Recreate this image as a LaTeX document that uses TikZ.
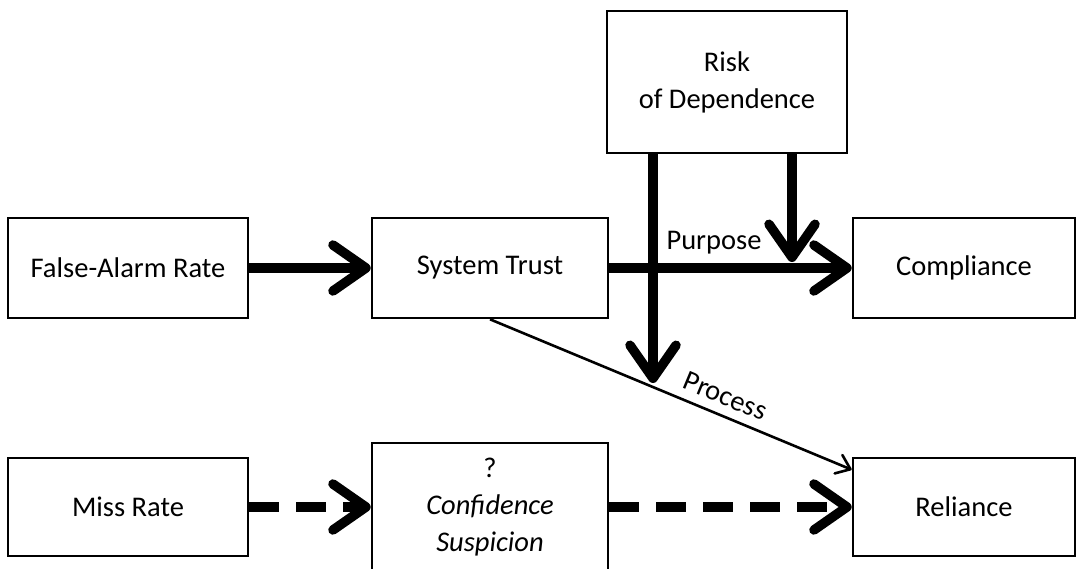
\documentclass[tikz,border=0pt]{standalone}
\usepackage{fontspec}
\setmainfont{Carlito}
\usetikzlibrary{arrows.meta,calc}
\begin{document}
\begin{tikzpicture}[x=1pt,y=-1pt,
  box/.style={draw=black,line width=2.6pt,fill=white,align=center,inner sep=0pt,
    font=\fontsize{28.5}{37}\selectfont},
  bigarrow/.style={line width=9.5pt,-{Straight Barb[length=33pt,width=46pt,line cap=round,round]}},
  dasharrow/.style={bigarrow,dash pattern=on 30pt off 17pt},
  thinarrow/.style={line width=2.6pt,-{Straight Barb[length=13pt,width=20pt,line cap=round,round]}},
  lbl/.style={font=\fontsize{28.5}{30}\selectfont,inner sep=0pt}]
\useasboundingbox (0,0) rectangle (1081,569);
\node[box,minimum width=240pt,minimum height=100pt] (FA) at (128,268) {False-Alarm Rate};
\node[box,minimum width=236pt,minimum height=100pt] (ST) at (490,268) {System Trust};
\node[box,minimum width=222pt,minimum height=100pt] (CO) at (964,268) {Compliance};
\node[box,minimum width=240pt,minimum height=142pt] (RD) at (727,82) {Risk\\of Dependence};
\node[box,minimum width=240pt,minimum height=98pt] (MR) at (128,507) {Miss Rate};
\node[box,minimum width=236pt,minimum height=128pt] (CS) at (490,507) {?\\\itshape Confidence\\\itshape Suspicion};
\node[box,minimum width=222pt,minimum height=98pt] (RE) at (964,507) {Reliance};
\coordinate (PT) at (653,383);
\coordinate (CT) at (792,262);
\coordinate (RT) at ($(RE.north west)+(0,13)$);
\draw[bigarrow] (FA.east) -- (ST.west);
\draw[bigarrow] (ST.east) -- (CO.west);
\draw[thinarrow] (ST.south) -- node[lbl,sloped,above=9pt,pos=0.63] (PL) {Process} (RT);
\draw[bigarrow] (RD.south -| PT) -- (PT);
\draw[bigarrow] (RD.south -| CT) -- (CT);
\node[lbl] (PU) at (714,243) {Purpose};
\draw[dasharrow] (MR.east) -- (CS.west);
\draw[dasharrow] (CS.east) -- (RE.west);
\end{tikzpicture}
\end{document}
